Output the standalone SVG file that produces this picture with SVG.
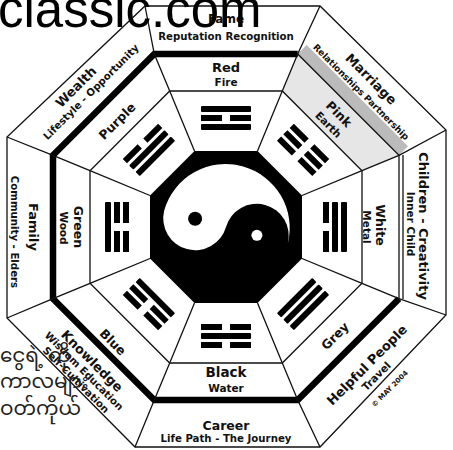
<svg xmlns="http://www.w3.org/2000/svg" width="453" height="450" viewBox="0 0 453 450">
<defs>
<style>
.t{font-family:"DejaVu Sans",Verdana,sans-serif;font-weight:bold;fill:#111;text-anchor:middle;dominant-baseline:central}
.h{font-size:13px}
.s{font-size:10.2px}
.c{font-size:12.5px}
.e{font-size:10.5px}
.ln{fill:none;stroke:#111;stroke-width:1.3;stroke-linejoin:miter}
.thick{fill:none;stroke:#000;stroke-width:6.5}
.wm{font-family:"Liberation Sans",Arial,sans-serif;font-size:51px;fill:#000}
.my{font-family:"Noto Sans Myanmar","Padauk","Myanmar Text",sans-serif;font-size:20px;fill:#222}
</style>
<rect id="S" x="-25" y="-3" width="50" height="6" rx="1"/>
<path id="B" d="M-25,-3h21v6h-21zM4,-3h21v6h-21z"/>
</defs>
<rect width="453" height="450" fill="#fff"/>

<g id="frame">
<polygon points="297.7,54 399,155.3 362,170.7 282.3,91" fill="#e6e6e6"/>
<polygon points="297.7,54 399,155.3 408,146.3 306.7,45" fill="#bbb"/>
<polygon class="ln" points="145,6 320,6 446,130 446,315 320,447 135,447 7,318 7,137"/>
<polygon class="ln" points="154.3,54 297.7,54 399,155.3 399,298.7 297.7,400 154.3,400 53,298.7 53,155.3"/>
<polygon class="ln" points="169.7,91 282.3,91 362,170.7 362,283.3 282.3,363 169.7,363 90,283.3 90,170.7"/>
<polyline class="thick" points="399,298.7 297.7,400 154.3,400 53,298.7 53,155.3 154.3,54 297.7,54"/>
<line class="ln" x1="403" y1="155" x2="403" y2="299"/>
<path class="ln" d="M145,6L154.3,54L169.7,91L194.5,151M320,6L297.7,54L282.3,91L257.5,151M446,130L399,155.3L362,170.7L302,195.5M446,315L399,298.7L362,283.3L302,258.5M320,447L297.7,400L282.3,363L257.5,303M135,447L154.3,400L169.7,363L194.5,303M7,318L53,298.7L90,283.3L150,258.5M7,137L53,155.3L90,170.7L150,195.5"/>
</g>

<g id="center">
<polygon points="194.5,151 257.5,151 302,195.5 302,258.5 257.5,303 194.5,303 150,258.5 150,195.5" fill="#000"/>
<path d="M164.2,210.4A64,64 0 0 1 287.8,243.6A32,32 0 0 0 226,227A32,32 0 0 1 164.2,210.4Z" fill="#fff"/>
<circle cx="195.1" cy="218.7" r="7" fill="#000"/>
<circle cx="256.9" cy="235.3" r="5.5" fill="#fff"/>
</g>

<g id="fame">
<g transform="rotate(0 226 227)"><use href="#S" x="226" y="109"/><use href="#B" x="226" y="118"/><use href="#S" x="226" y="127"/></g>
<text class="t" style="font-size:12px" x="226" y="19">Fame</text>
<text class="t s" x="226" y="36">Reputation Recognition</text>
<text class="t h" x="226" y="67">Red</text>
<text class="t e" x="226" y="82">Fire</text>
</g>

<g id="marriage">
<g transform="rotate(45 226 227)"><use href="#B" x="226" y="109"/><use href="#B" x="226" y="118"/><use href="#B" x="226" y="127"/></g>
<text class="t h" transform="translate(371,79) rotate(45)">Marriage</text>
<text class="t" style="font-size:9px" transform="translate(361,92) rotate(45)">Relationships Partnership</text>
<text class="t c" transform="translate(339,114) rotate(45)">Pink</text>
<text class="t e" transform="translate(328.5,124.5) rotate(45)">Earth</text>
</g>

<g id="children">
<g transform="rotate(90 226 227)"><use href="#S" x="226" y="109"/><use href="#S" x="226" y="118"/><use href="#B" x="226" y="127"/></g>
<text class="t h" transform="translate(423,226) rotate(90)">Children - Creativity</text>
<text class="t e" transform="translate(411,224) rotate(90)">Inner Child</text>
<text class="t c" transform="translate(380,225) rotate(90)">White</text>
<text class="t e" transform="translate(367,227) rotate(90)">Metal</text>
</g>

<g id="helpful">
<g transform="rotate(135 226 227)"><use href="#S" x="226" y="109"/><use href="#S" x="226" y="118"/><use href="#S" x="226" y="127"/></g>
<text class="t h" transform="translate(367,365) rotate(-45)">Helpful People</text>
<text class="t e" transform="translate(376,376) rotate(-45)">Travel</text>
<text class="t" style="font-size:7px" transform="translate(390,389) rotate(-45)">© MAY 2004</text>
<text class="t c" transform="translate(335,336) rotate(-45)">Grey</text>
</g>

<g id="career">
<g transform="rotate(180 226 227)"><use href="#B" x="226" y="109"/><use href="#S" x="226" y="118"/><use href="#B" x="226" y="127"/></g>
<text class="t" style="font-size:13.5px" x="226" y="372">Black</text>
<text class="t e" x="226" y="388">Water</text>
<text class="t c" x="226" y="425">Career</text>
<text class="t s" x="226" y="438">Life Path - The Journey</text>
</g>

<g id="knowledge">
<g transform="rotate(225 226 227)"><use href="#S" x="226" y="127"/><use href="#B" x="226" y="118"/><use href="#B" x="226" y="109"/></g>
<text class="t c" transform="translate(113,342) rotate(45)">Blue</text>
<text class="t h" transform="translate(92,361) rotate(45)">Knowledge</text>
<text class="t s" transform="translate(84,371) rotate(45)">Wisdom Education</text>
<text class="t s" transform="translate(76,380) rotate(45)">Self-Cultivation</text>
</g>

<g id="family">
<g transform="rotate(270 226 227)"><use href="#B" x="226" y="127"/><use href="#B" x="226" y="118"/><use href="#S" x="226" y="109"/></g>
<text class="t h" transform="translate(33,227) rotate(90)">Family</text>
<text class="t s" transform="translate(14,232) rotate(90)">Community - Elders</text>
<text class="t c" transform="translate(78,227) rotate(90)">Green</text>
<text class="t e" transform="translate(64,228) rotate(90)">Wood</text>
</g>

<g id="wealth">
<g transform="rotate(315 226 227)"><use href="#S" x="226" y="127"/><use href="#S" x="226" y="118"/><use href="#B" x="226" y="109"/></g>
<text class="t h" transform="translate(76,87) rotate(-45)">Wealth</text>
<text class="t s" transform="translate(91,92) rotate(-45)">Lifestyle - Opportunity</text>
<text class="t c" transform="translate(117,121) rotate(-45)">Purple</text>
</g>

<text class="wm" x="-2" y="27">classic.com</text>
<text class="my" x="0" y="362">ငွေရဲ့ ကို</text>
<text class="my" x="0" y="388">ကာလများ</text>
<text class="my" x="0" y="415">ဝတ်ကိုယ်</text>
</svg>
